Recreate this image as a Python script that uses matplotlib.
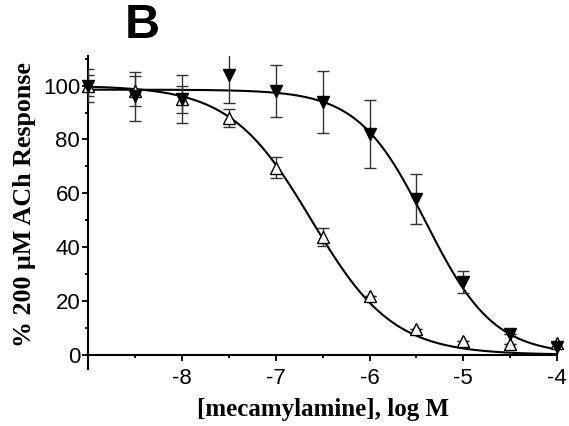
import numpy as np
import matplotlib
matplotlib.use("Agg")
import matplotlib.pyplot as plt
from matplotlib.ticker import MultipleLocator, FixedLocator

# log [mecamylamine] (M)
log_conc = [-9, -8.5, -8, -7.5, -7, -6.5, -6, -5.5, -5, -4.5, -4]

# filled triangles (down)
filled_mean = [100, 96, 95, 104, 98, 94, 82, 58, 27, 7.7, 3.0]
filled_sem = [6, 9, 9, 10.5, 9.6, 11.5, 12.7, 9.3, 4, 0, 0]

# open triangles (up)
open_mean = [100, 98, 95, 88, 69.5, 43.8, 21.8, 9.6, 5.2, 4.0, 4.2]
open_sem = [4, 5.5, 5, 3.4, 4, 3.4, 0, 0, 0, 0, 0]

# fitted sigmoid parameters (top, logIC50, hill)
filled_fit = (98.5, -5.4, 1.2)
open_fit = (100.0, -6.62, 1.0)


def sigmoid(x, top, logic50, hill):
    return top / (1 + 10 ** ((x - logic50) * hill))


fig = plt.figure(figsize=(5.69, 4.26), dpi=100)
ax = fig.add_axes([0.1555, 0.1338, 0.979 - 0.1555, 0.8685 - 0.1338])

xs = np.linspace(-9, -4, 300)
ax.plot(xs, sigmoid(xs, *filled_fit), color="black", lw=1.5, zorder=2, clip_on=False)
ax.plot(xs, sigmoid(xs, *open_fit), color="black", lw=1.5, zorder=2, clip_on=False)

ax.errorbar(log_conc, filled_mean, yerr=filled_sem, fmt="none", ecolor="#333333",
            elinewidth=1.0, capsize=4.5, capthick=1.0, zorder=3)
ax.errorbar(log_conc, open_mean, yerr=open_sem, fmt="none", ecolor="#333333",
            elinewidth=1.0, capsize=4.5, capthick=1.0, zorder=3)

ax.plot(log_conc, open_mean, linestyle="none", marker="^", markersize=8.5,
        markerfacecolor="white", markeredgecolor="black", markeredgewidth=1.0,
        zorder=4, clip_on=False)
ax.plot(log_conc, filled_mean, linestyle="none", marker="v", markersize=8.5,
        markerfacecolor="black", markeredgecolor="black", zorder=5, clip_on=False)

ax.set_xlim(-9, -4)
ax.set_ylim(-5.3, 111)

for s in ["top", "right"]:
    ax.spines[s].set_visible(False)
ax.spines["bottom"].set_position(("data", 0))
ax.spines["left"].set_linewidth(1.5)
ax.spines["bottom"].set_linewidth(1.5)

ax.xaxis.set_major_locator(FixedLocator([-8, -7, -6, -5, -4]))
ax.xaxis.set_minor_locator(FixedLocator([-8.5, -7.5, -6.5, -5.5, -4.5]))
ax.yaxis.set_major_locator(MultipleLocator(20))
ax.yaxis.set_minor_locator(FixedLocator([10, 30, 50, 70, 90, 110]))
ax.set_xticklabels(["-8", "-7", "-6", "-5", "-4"])

ax.tick_params(which="major", direction="out", length=4.5, width=1.3,
               labelsize=16, pad=1.5)
ax.tick_params(which="minor", direction="out", length=2.5, width=1.3)
for lab in ax.get_xticklabels() + ax.get_yticklabels():
    lab.set_fontfamily("Liberation Sans")
ax.tick_params(axis="x", pad=5)

ax.set_xlabel("[mecamylamine], log M", fontsize=18, fontweight="bold",
              fontfamily="Liberation Serif")
ax.set_ylabel("% 200 \u03bcM ACh Response", fontsize=18.7, fontweight="bold",
              fontfamily="Liberation Serif")
ax.xaxis.set_label_coords(0.5, -0.092)
ax.yaxis.set_label_coords(-0.112, 0.524)

fig.text(142 / 569, 1 - 26 / 426, "B", fontsize=35, fontweight="bold",
         fontfamily="Liberation Sans", ha="center", va="center")

fig.savefig("out.png", dpi=100)
